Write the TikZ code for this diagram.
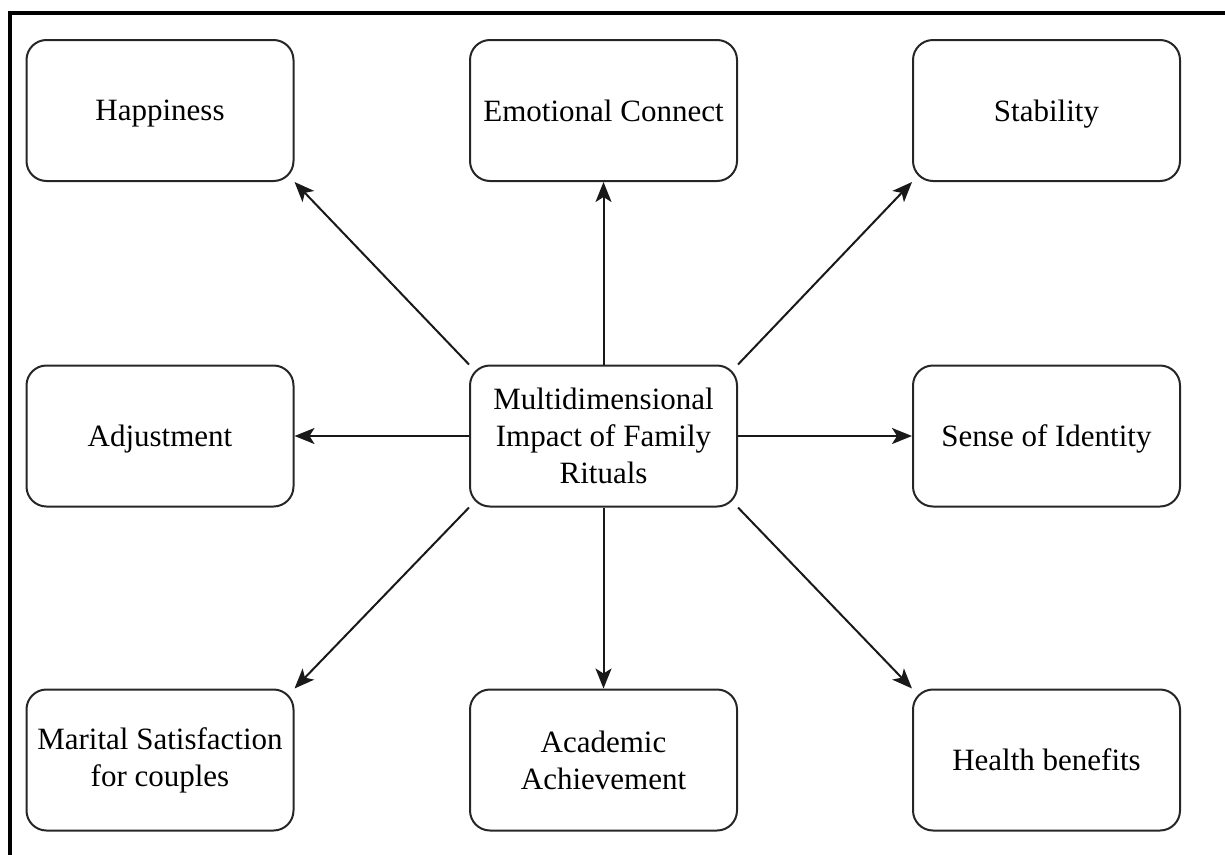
\documentclass[tikz,border=0pt]{standalone}
\usepackage{fontspec}
\setmainfont{Liberation Serif}
\usetikzlibrary{arrows.meta}
\tikzset{
  box/.style={draw=black!85, line width=2pt, rounded corners=20pt, minimum width=267pt, minimum height=141pt,
    align=center, text=black, font=\fontsize{31}{37}\selectfont, inner sep=2pt},
  oneline/.style={text depth=0pt},
  arr/.style={draw=black!90, line width=2pt, -{Stealth[length=20pt,width=16pt,inset=5pt]}},
  frame/.style={draw=black, line width=4.5pt}
}
\begin{document}
\begin{tikzpicture}[x=1pt,y=-1pt]
\useasboundingbox (0,0) rectangle (1225,854);
\coordinate (fbl) at (10,870);
\coordinate (ftl) at (10,13);
\coordinate (ftr) at (1240,13);
\draw[frame] (fbl) -- (ftl) -- (ftr);

\node[box,oneline] (h) at (160,110.5) {Happiness};
\node[box,oneline] (e) at (603.5,110.5) {Emotional Connect};
\node[box,oneline] (s) at (1046.5,110.5) {Stability};
\node[box,oneline] (a) at (160,436) {Adjustment};
\node[box] (c) at (603.5,436) {Multidimensional\\Impact of Family\\Rituals};
\node[box,oneline] (i) at (1046.5,436) {Sense of Identity};
\node[box] (m) at (160,760) {Marital Satisfaction\\for couples};
\node[box] (ac) at (603.5,760) {Academic\\Achievement};
\node[box,oneline] (hb) at (1046.5,760) {Health benefits};

\draw[arr] (c.north west) -- (h.south east);
\draw[arr] (c.north) -- (e.south);
\draw[arr] (c.north east) -- (s.south west);
\draw[arr] (c.west) -- (a.east);
\draw[arr] (c.east) -- (i.west);
\draw[arr] (c.south west) -- (m.north east);
\draw[arr] (c.south) -- (ac.north);
\draw[arr] (c.south east) -- (hb.north west);
\end{tikzpicture}
\end{document}
